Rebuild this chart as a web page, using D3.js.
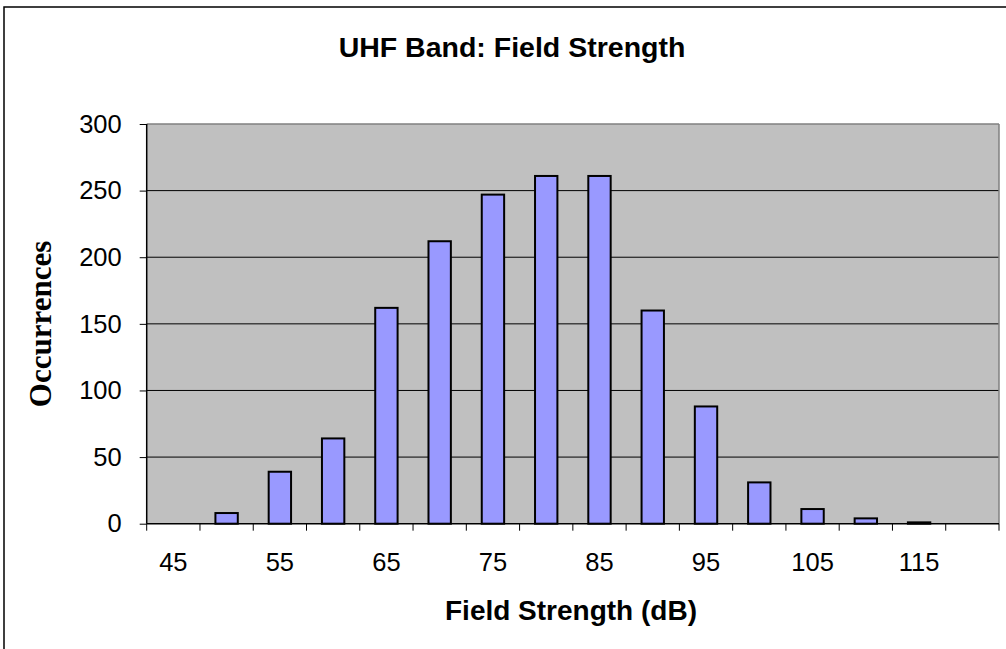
<!DOCTYPE html>
<html><head><meta charset="utf-8">
<script src="https://cdn.jsdelivr.net/npm/d3@7"></script>
<style>body{margin:0;background:#fff}svg{display:block}</style>
</head><body><svg id="c" width="1006" height="649"></svg>
<script>
const categories = ["45","50","55","60","65","70","75","80","85","90","95","100","105","110","115","120"];
const occurrences = [0,8,39,64,162,212,247,261,261,160,88,31,11,4,1,0];
const yTicks = [0,50,100,150,200,250,300];
const shownLabels = ["45","55","65","75","85","95","105","115"];

const svg = d3.select("#c");
const L = 146.7, R = 999, T = 124, B = 523.7;

svg.append("rect").attr("x",4).attr("y",7).attr("width",1010).attr("height",660)
  .attr("fill","#fff").attr("stroke","#000").attr("stroke-width",1.5);

const x = d3.scaleBand().domain(categories).range([L,R]).padding(0);
const y = d3.scaleLinear().domain([0,300]).range([B,T]);

svg.append("rect").attr("x",L).attr("y",T).attr("width",R-L).attr("height",B-T).attr("fill","#C0C0C0");

svg.append("g").selectAll("line").data(yTicks.filter(d=>d>0 && d<300)).join("line")
  .attr("x1",L).attr("x2",R).attr("y1",d=>y(d)).attr("y2",d=>y(d))
  .attr("stroke","#000").attr("stroke-width",1);
svg.append("line").attr("x1",L).attr("x2",R).attr("y1",T).attr("y2",T).attr("stroke","#808080").attr("stroke-width",1.5);
svg.append("line").attr("x1",R).attr("x2",R).attr("y1",T).attr("y2",B).attr("stroke","#808080").attr("stroke-width",1.5);

const bw = x.bandwidth()*0.42;
svg.append("g").selectAll("rect").data(categories.map((c,i)=>({c,v:occurrences[i]})).filter(d=>d.v>0)).join("rect")
  .attr("x",d=>x(d.c)+x.bandwidth()/2-bw/2)
  .attr("y",d=>y(d.v))
  .attr("width",bw)
  .attr("height",d=>B-y(d.v))
  .attr("fill","#9999FF").attr("stroke","#000").attr("stroke-width",2);

const ya = svg.append("g").attr("transform",`translate(${L},0)`)
  .call(d3.axisLeft(y).tickValues(yTicks).tickSize(7).tickPadding(18));
ya.select(".domain").attr("stroke","#000").attr("stroke-width",1.5).attr("d",`M0,${T}V${B}`);
ya.selectAll(".tick line").attr("stroke","#000");
ya.selectAll("text").attr("font-family","Liberation Sans, Arial, sans-serif").attr("font-size",25.5).attr("fill","#000");

const xa = svg.append("g").attr("transform",`translate(0,${B})`)
  .call(d3.axisBottom(x).tickSize(0).tickPadding(29).tickFormat(d=>shownLabels.includes(d)?d:""));
xa.select(".domain").attr("stroke","#000").attr("stroke-width",1.5).attr("d",`M${L},0H${R}`);
xa.selectAll("text").attr("font-family","Liberation Sans, Arial, sans-serif").attr("font-size",25.5).attr("fill","#000");
const bounds = categories.map(c=>x(c)).concat([R]);
xa.selectAll(".bt").data(bounds).join("line").attr("class","bt")
  .attr("x1",d=>d).attr("x2",d=>d).attr("y1",0).attr("y2",7).attr("stroke","#000");

svg.append("text").attr("x",512).attr("y",57).attr("text-anchor","middle")
  .attr("font-family","Liberation Sans, Arial, sans-serif").attr("font-weight","bold").attr("font-size",28.5)
  .text("UHF Band: Field Strength");
svg.append("text").attr("x",571).attr("y",620).attr("text-anchor","middle")
  .attr("font-family","Liberation Sans, Arial, sans-serif").attr("font-weight","bold").attr("font-size",28)
  .text("Field Strength (dB)");
svg.append("text").attr("transform","translate(51,324) rotate(-90)").attr("text-anchor","middle")
  .attr("font-family","Liberation Serif, Times New Roman, serif").attr("font-weight","bold").attr("font-size",31)
  .text("Occurrences");
</script></body></html>
